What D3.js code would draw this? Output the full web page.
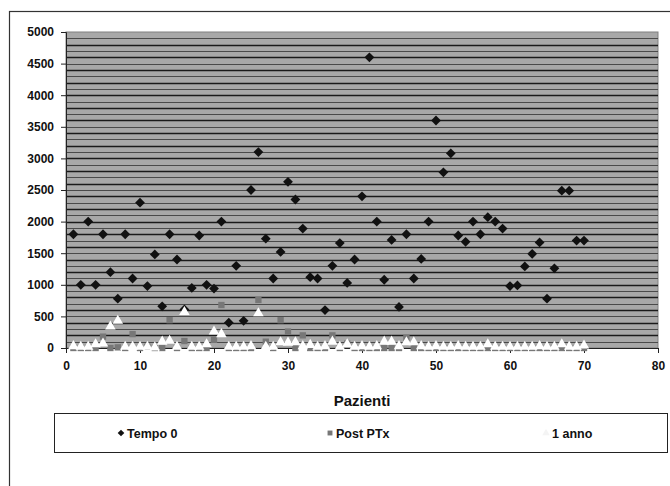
<!DOCTYPE html>
<html>
<head>
<meta charset="utf-8">
<script src="https://cdn.jsdelivr.net/npm/d3@7"></script>
<style>
  body { margin: 0; background: #fff; }
  text { font-family: 'Liberation Sans', Arial, sans-serif; font-weight: bold; }
</style>
</head>
<body>
<svg id="chart" width="670" height="486"></svg>
<script>
// ===== data =====
var pazienti = d3.range(1, 71)
var tempo0 = [1800, 1000, 2000, 1000, 1800, 1200, 780, 1800, 1100, 2300,
  980, 1480, 660, 1800, 1400, 610, 950, 1780, 1000, 940,
  2000, 400, 1300, 430, 2500, 3100, 1730, 1100, 1520, 2630,
  2350, 1890, 1120, 1100, 600, 1300, 1660, 1030, 1400, 2400,
  4600, 2000, 1080, 1710, 650, 1800, 1100, 1410, 2000, 3600,
  2780, 3080, 1780, 1680, 2000, 1800, 2070, 2000, 1890, 980,
  990, 1290, 1490, 1670, 780, 1260, 2490, 2490, 1700, 1700]
var postPTx = [0, 0, 0, 0, 180, 0, 10, 0, 220, 0,
  20, 0, 0, 440, 0, 110, 0, 0, 0, 130,
  680, 0, 0, 0, 0, 760, 100, 0, 440, 260,
  0, 200, 0, 0, 0, 200, 0, 70, 0, 0,
  0, 0, 0, 0, 0, 160, 0, 0, 0, 0,
  0, 0, 0, 0, 0, 0, 0, 0, 0, 0,
  0, 0, 0, 0, 0, 0, 0, 0, 0, 0]
var unAnno = [30, 20, 20, 60, 70, 340, 430, 20, 20, 20,
  20, 10, 100, 115, 20, 570, 20, 20, 60, 260,
  220, 20, 20, 20, 30, 550, 20, 20, 90, 85,
  90, 30, 50, 20, 30, 100, 20, 60, 20, 30,
  20, 30, 100, 100, 30, 90, 90, 30, 20, 30,
  20, 20, 30, 20, 20, 20, 60, 20, 20, 20,
  20, 20, 20, 30, 20, 20, 60, 20, 20, 40]
var seriesNames = ['Tempo 0', 'Post PTx', '1 anno']
var xTicks = [0, 10, 20, 30, 40, 50, 60, 70, 80]
var yTicks = [0, 500, 1000, 1500, 2000, 2500, 3000, 3500, 4000, 4500, 5000]

var svg = d3.select('#chart')

// outer chart border
svg.append('rect')
  .attr('x', 9.5).attr('y', 11.5)
  .attr('width', 670).attr('height', 490)
  .attr('fill', 'none').attr('stroke', '#333').attr('stroke-width', 1.2)

var plotLeft = 66, plotRight = 658, plotTop = 32, plotBottom = 348

var x = d3.scaleLinear().domain([0, 80]).range([plotLeft, plotRight])
var y = d3.scaleLinear().domain([0, 5000]).range([plotBottom, plotTop])

// gray plot area
svg.append('rect')
  .attr('x', plotLeft).attr('y', plotTop)
  .attr('width', plotRight - plotLeft).attr('height', plotBottom - plotTop)
  .attr('fill', '#a8a8a8')
  .attr('stroke', '#808080')

// horizontal lines every 100
svg.append('g')
  .selectAll('line')
  .data(d3.range(100, 5000, 100))
  .enter()
  .append('line')
  .attr('x1', plotLeft).attr('x2', plotRight)
  .attr('y1', function (d) { return Math.round(y(d)) + 0.5 })
  .attr('y2', function (d) { return Math.round(y(d)) + 0.5 })
  .attr('stroke', function (d) { return (d / 100) % 2 === 0 ? '#1a1a1a' : '#4a4a4a' })
  .attr('stroke-width', function (d) { return (d / 100) % 2 === 0 ? 1.3 : 1.1 })

// axes
var yAxis = d3.axisLeft(y).tickValues(yTicks).tickFormat(d3.format('d')).tickSize(5).tickPadding(7)
var xAxis = d3.axisBottom(x).tickValues(xTicks).tickFormat(d3.format('d')).tickSize(5).tickPadding(8)

var gy = svg.append('g').attr('transform', 'translate(' + plotLeft + ',0)').call(yAxis)
var gx = svg.append('g').attr('transform', 'translate(0,' + plotBottom + ')').call(xAxis)
;[gx, gy].forEach(function (g) {
  g.select('.domain').attr('stroke', '#222')
  g.selectAll('.tick line').attr('stroke', '#222')
  g.selectAll('.tick text')
    .attr('font-size', 12)
    .attr('font-family', "'Liberation Sans', Arial, sans-serif")
    .attr('font-weight', 'bold')
    .attr('fill', '#111')
})

svg.append('text')
  .attr('x', (plotLeft + plotRight) / 2).attr('y', 406)
  .attr('text-anchor', 'middle')
  .attr('font-size', 15)
  .attr('fill', '#111')
  .text('Pazienti')

// markers (diamond = square turned 45 degrees)
var square = d3.symbol().type(d3.symbolSquare).size(40)
var diamond = d3.symbol().type(d3.symbolSquare).size(48)
var triangle = d3.symbol().type(d3.symbolTriangle).size(48)

svg.append('g').selectAll('path')
  .data(pazienti)
  .enter()
  .append('path')
  .attr('d', square)
  .attr('transform', function (d, i) { return 'translate(' + x(d) + ',' + y(postPTx[i]) + ')' })
  .attr('fill', '#777')

svg.append('g').selectAll('path')
  .data(pazienti)
  .enter()
  .append('path')
  .attr('d', diamond)
  .attr('transform', function (d, i) { return 'translate(' + x(d) + ',' + y(tempo0[i]) + ') rotate(45)' })
  .attr('fill', '#111')

svg.append('g').selectAll('path')
  .data(pazienti)
  .enter()
  .append('path')
  .attr('d', triangle)
  .attr('transform', function (d, i) { return 'translate(' + x(d) + ',' + y(unAnno[i]) + ')' })
  .attr('fill', '#fff')

// legend
var legend = svg.append('g')
legend.append('rect')
  .attr('x', 54.5).attr('y', 413.5)
  .attr('width', 613).attr('height', 39)
  .attr('fill', '#fff').attr('stroke', '#222')

var legendX = [121, 330, 546]
var legendMarks = [diamond, square, triangle]
var legendRotate = [45, 0, 0]
var legendFill = ['#111', '#777', '#f4f4f4']
seriesNames.forEach(function (name, i) {
  legend.append('path')
    .attr('d', legendMarks[i].size(i === 0 ? 22 : 24)())
    .attr('transform', 'translate(' + legendX[i] + ',433) rotate(' + legendRotate[i] + ')')
    .attr('fill', legendFill[i])
  legend.append('text')
    .attr('x', legendX[i] + 6).attr('y', 437.5)
    .attr('font-size', 12.5)
    .attr('fill', '#111')
    .text(name)
})
</script>
</body>
</html>
